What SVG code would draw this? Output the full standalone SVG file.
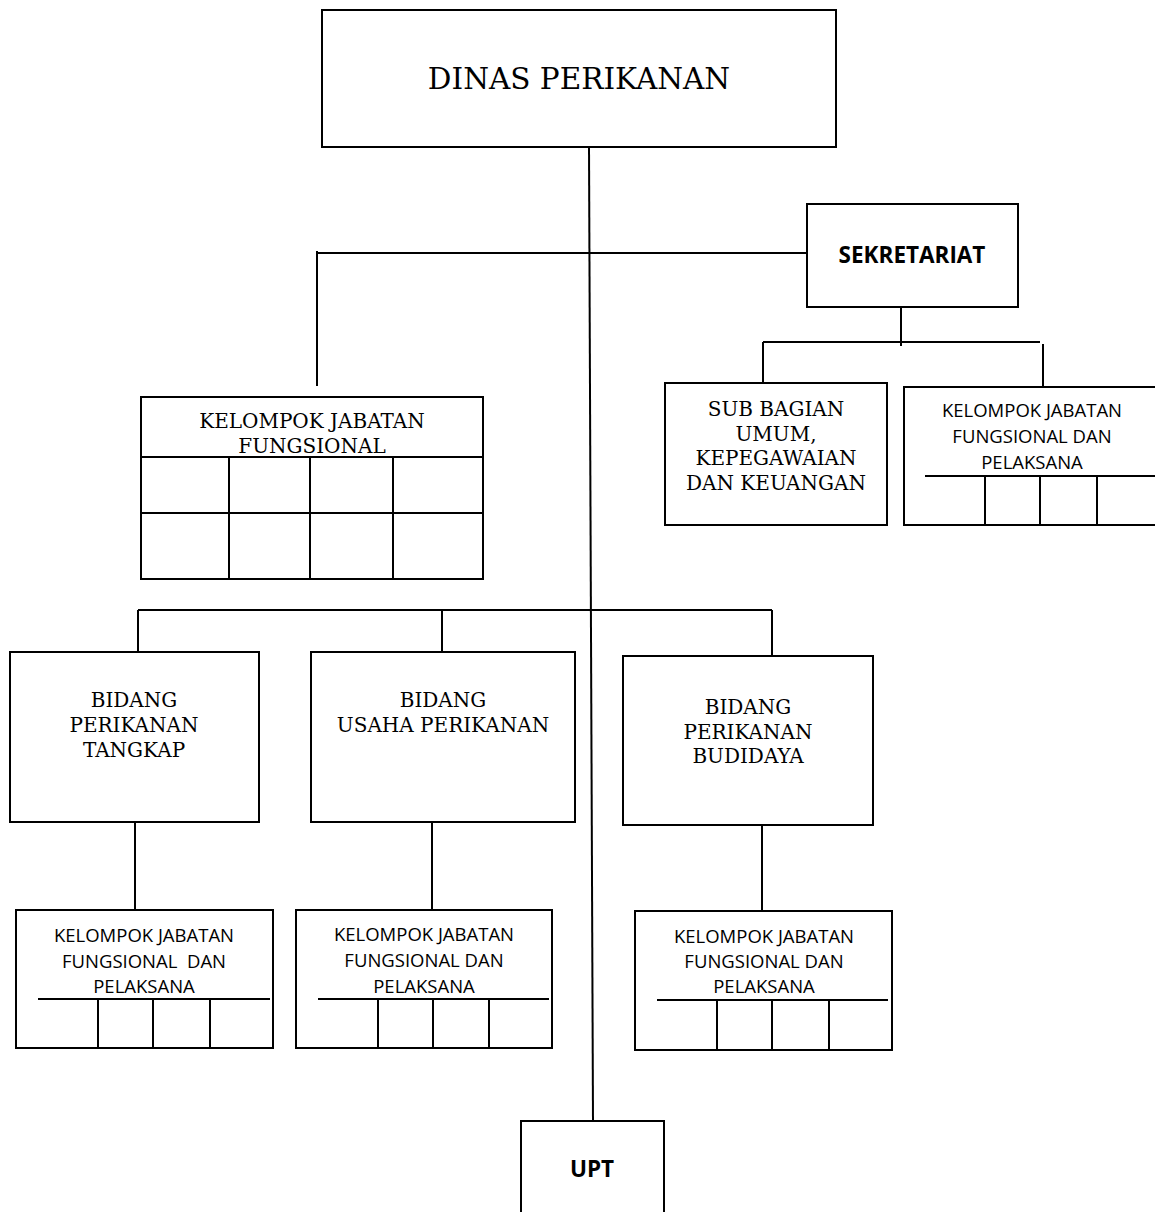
<svg xmlns="http://www.w3.org/2000/svg" width="1155" height="1212" viewBox="0 0 1155 1212">
<style>
.box{fill:#fff;stroke:#000;stroke-width:2}
.ln{stroke:#000;stroke-width:2;fill:none}
.serif{font-family:"DejaVu Serif","Liberation Serif",serif;font-size:20px;fill:#000;text-anchor:middle}
.sans{font-family:"Open Sans","Liberation Sans",sans-serif;font-size:18.5px;fill:#000;text-anchor:middle}
.bold{font-family:"Open Sans","Liberation Sans",sans-serif;font-size:22.5px;font-weight:bold;fill:#000;text-anchor:middle}
</style>
<rect width="1155" height="1212" fill="#fff"/>
<g id="connectors" class="ln">
<line x1="589" y1="147" x2="593" y2="1121"/>
<line x1="317" y1="253" x2="807" y2="253"/>
<line x1="317" y1="251" x2="317" y2="386"/>
<line x1="901" y1="307" x2="901" y2="346"/>
<line x1="763" y1="342" x2="1040" y2="342"/>
<line x1="763" y1="342" x2="763" y2="383"/>
<line x1="1043" y1="344" x2="1043" y2="387"/>
<line x1="138" y1="610" x2="772" y2="610"/>
<line x1="138" y1="610" x2="138" y2="652"/>
<line x1="442" y1="610" x2="442" y2="652"/>
<line x1="772" y1="610" x2="772" y2="656"/>
<line x1="135" y1="822" x2="135" y2="910"/>
<line x1="432" y1="822" x2="432" y2="910"/>
<line x1="762" y1="825" x2="762" y2="911"/>
</g>
<g id="dinas">
<rect class="box" x="322" y="10" width="514" height="137"/>
<text class="serif" x="579" y="89" style="font-size:29.5px">DINAS PERIKANAN</text>
</g>
<g id="sekretariat">
<rect class="box" x="807" y="204" width="211" height="103"/>
<text class="bold" x="912" y="263">SEKRETARIAT</text>
</g>
<g id="subbagian">
<rect class="box" x="665" y="383" width="222" height="142"/>
<text class="serif" x="776" y="416">SUB BAGIAN</text>
<text class="serif" x="776" y="441">UMUM,</text>
<text class="serif" x="776" y="465">KEPEGAWAIAN</text>
<text class="serif" x="776" y="490">DAN KEUANGAN</text>
</g>
<g id="kjf-sekretariat">
<rect class="box" x="904" y="387" width="256" height="138"/>
<text class="sans" x="1032" y="417">KELOMPOK JABATAN</text>
<text class="sans" x="1032" y="443">FUNGSIONAL DAN</text>
<text class="sans" x="1032" y="469">PELAKSANA</text>
<g class="ln">
<line x1="925" y1="476" x2="1160" y2="476"/>
<line x1="985" y1="476" x2="985" y2="525"/>
<line x1="1040" y1="476" x2="1040" y2="525"/>
<line x1="1097" y1="476" x2="1097" y2="525"/>
</g>
</g>
<g id="kjf">
<rect class="box" x="141" y="397" width="342" height="182"/>
<text class="serif" x="312" y="428">KELOMPOK JABATAN</text>
<text class="serif" x="312" y="453">FUNGSIONAL</text>
<g class="ln">
<line x1="141" y1="457" x2="483" y2="457"/>
<line x1="141" y1="513" x2="483" y2="513"/>
<line x1="229" y1="457" x2="229" y2="579"/>
<line x1="310" y1="457" x2="310" y2="579"/>
<line x1="393" y1="457" x2="393" y2="579"/>
</g>
</g>
<g id="bidang-tangkap">
<rect class="box" x="10" y="652" width="249" height="170"/>
<text class="serif" x="134" y="707">BIDANG</text>
<text class="serif" x="134" y="732">PERIKANAN</text>
<text class="serif" x="134" y="757">TANGKAP</text>
</g>
<g id="bidang-usaha">
<rect class="box" x="311" y="652" width="264" height="170"/>
<text class="serif" x="443" y="707">BIDANG</text>
<text class="serif" x="443" y="732">USAHA PERIKANAN</text>
</g>
<g id="bidang-budidaya">
<rect class="box" x="623" y="656" width="250" height="169"/>
<text class="serif" x="748" y="714">BIDANG</text>
<text class="serif" x="748" y="739">PERIKANAN</text>
<text class="serif" x="748" y="763">BUDIDAYA</text>
</g>
<g id="kjf-tangkap">
<rect class="box" x="16" y="910" width="257" height="138"/>
<text class="sans" x="144" y="942" xml:space="preserve">KELOMPOK JABATAN</text>
<text class="sans" x="144" y="968" xml:space="preserve">FUNGSIONAL  DAN</text>
<text class="sans" x="144" y="993">PELAKSANA</text>
<g class="ln">
<line x1="38" y1="999" x2="270" y2="999"/>
<line x1="98" y1="999" x2="98" y2="1048"/>
<line x1="153" y1="999" x2="153" y2="1048"/>
<line x1="210" y1="999" x2="210" y2="1048"/>
</g>
</g>
<g id="kjf-usaha">
<rect class="box" x="296" y="910" width="256" height="138"/>
<text class="sans" x="424" y="941">KELOMPOK JABATAN</text>
<text class="sans" x="424" y="967">FUNGSIONAL DAN</text>
<text class="sans" x="424" y="993">PELAKSANA</text>
<g class="ln">
<line x1="318" y1="999" x2="549" y2="999"/>
<line x1="378" y1="999" x2="378" y2="1048"/>
<line x1="433" y1="999" x2="433" y2="1048"/>
<line x1="489" y1="999" x2="489" y2="1048"/>
</g>
</g>
<g id="kjf-budidaya">
<rect class="box" x="635" y="911" width="257" height="139"/>
<text class="sans" x="764" y="943">KELOMPOK JABATAN</text>
<text class="sans" x="764" y="968">FUNGSIONAL DAN</text>
<text class="sans" x="764" y="993">PELAKSANA</text>
<g class="ln">
<line x1="657" y1="1000" x2="888" y2="1000"/>
<line x1="717" y1="1000" x2="717" y2="1050"/>
<line x1="772" y1="1000" x2="772" y2="1050"/>
<line x1="829" y1="1000" x2="829" y2="1050"/>
</g>
</g>
<g id="upt">
<rect class="box" x="521" y="1121" width="143" height="100"/>
<text class="bold" x="592" y="1177">UPT</text>
</g>
</svg>
